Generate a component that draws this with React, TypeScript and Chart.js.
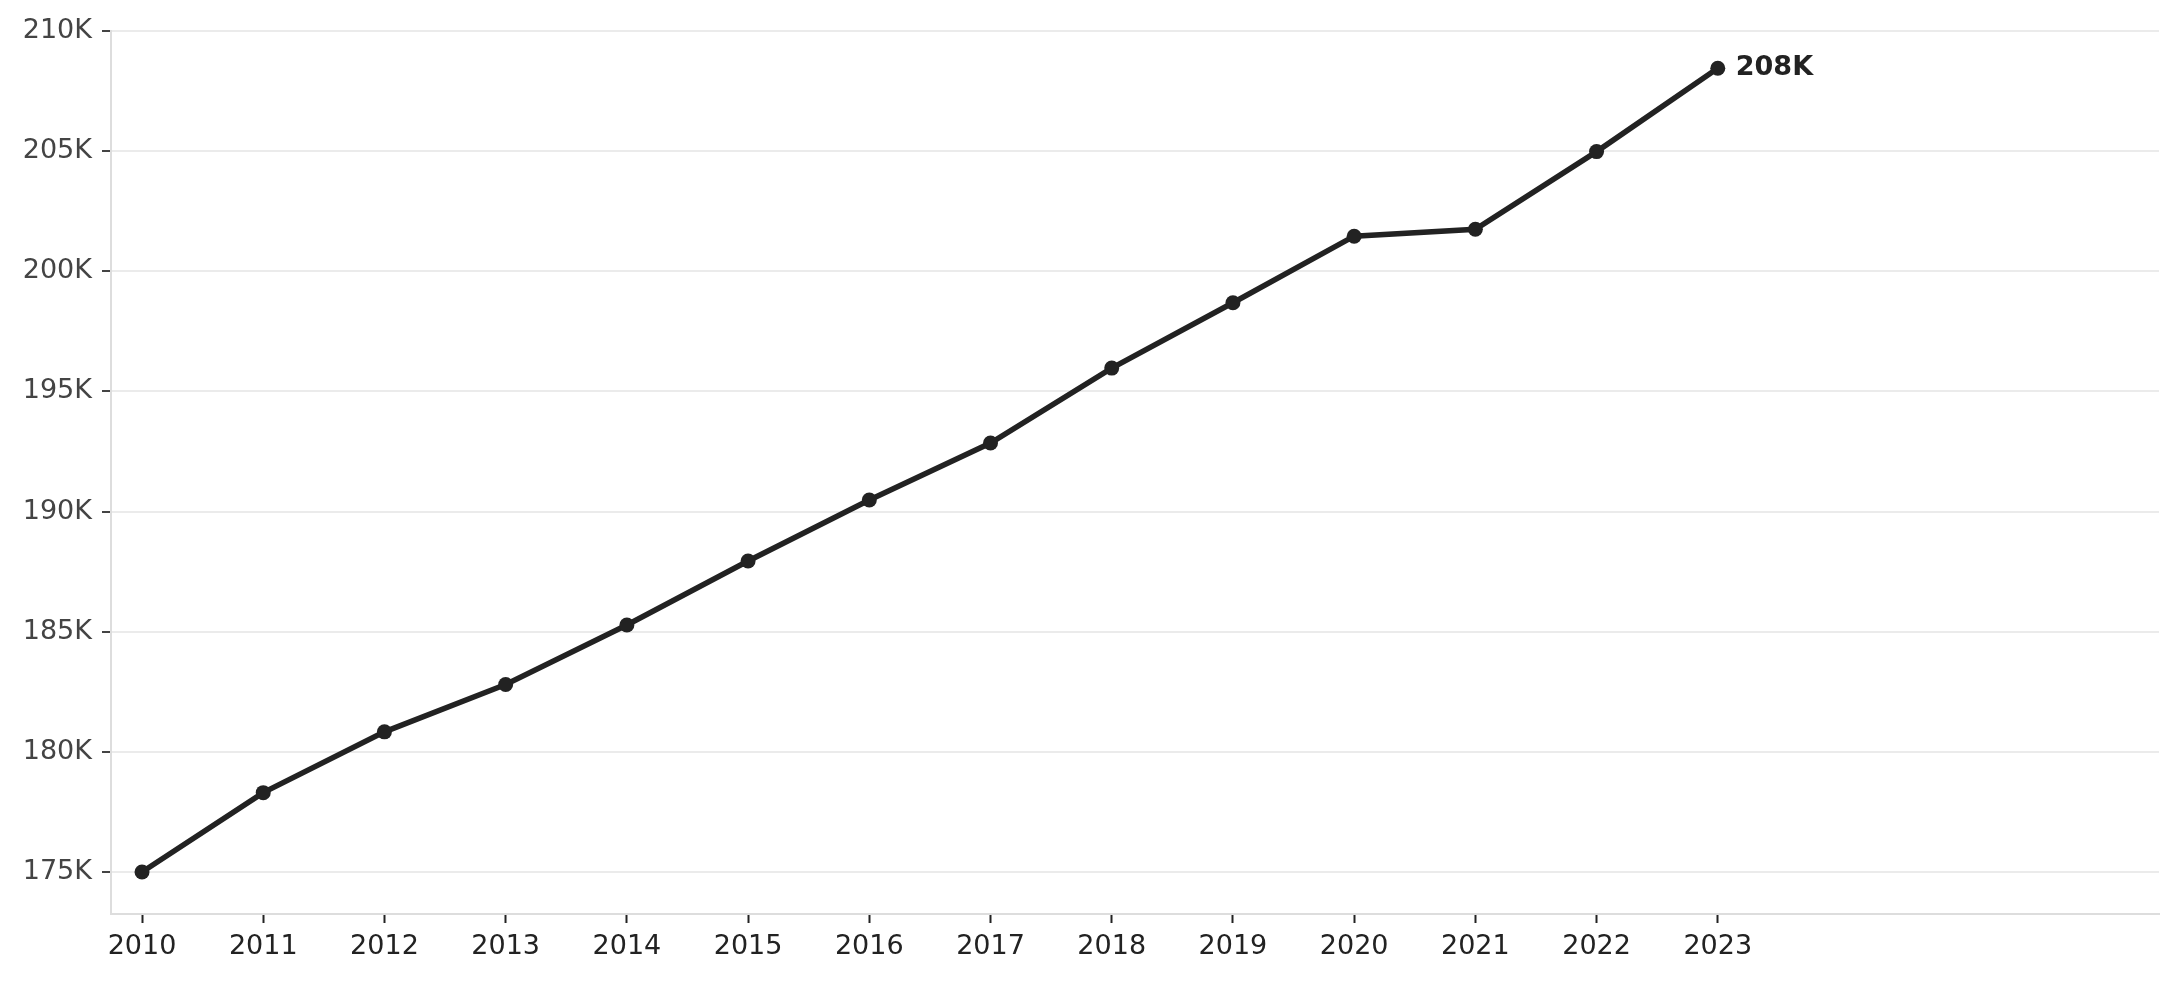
import React, { useEffect, useRef } from "react";
import { Chart, registerables } from "chart.js";

Chart.register(...registerables);

const years = [2010, 2011, 2012, 2013, 2014, 2015, 2016, 2017, 2018, 2019, 2020, 2021, 2022, 2023];
const values = [175000, 178300, 180830, 182800, 185280, 187940, 190480, 192850, 195970, 198690, 201460, 201750, 204980, 208450];
const yTickValues = [175000, 180000, 185000, 190000, 195000, 200000, 205000, 210000];
const xTickValues = years;

const FONT = "'DejaVu Sans', sans-serif";

const endLabelPlugin = {
  id: "endLabel",
  afterDatasetsDraw(chart: any) {
    const meta = chart.getDatasetMeta(0);
    const last = meta.data[meta.data.length - 1];
    if (!last) return;
    const v = values[values.length - 1];
    const ctx = chart.ctx;
    ctx.save();
    ctx.font = "bold 27px " + FONT;
    ctx.fillStyle = "#222222";
    ctx.textAlign = "left";
    ctx.textBaseline = "middle";
    ctx.fillText(Math.round(v / 1000) + "K", last.x + 18, last.y);
    ctx.restore();
  },
};

export default function App() {
  const ref = useRef<HTMLCanvasElement | null>(null);
  useEffect(() => {
    document.body.style.margin = "0";
    const canvas = ref.current!;
    const chart = new Chart(canvas, {
      type: "line",
      data: {
        datasets: [
          {
            data: years.map((y, i) => ({ x: y, y: values[i] })),
            borderColor: "#222222",
            backgroundColor: "#222222",
            borderWidth: 5.5,
            pointRadius: 7.5,
            pointBorderWidth: 0,
            pointBackgroundColor: "#222222",
            tension: 0,
            fill: false,
          },
        ],
      },
      options: {
        responsive: false,
        animation: false,
        events: [],
        layout: { padding: { left: 0, right: 21, top: 31, bottom: 0 } },
        plugins: { legend: { display: false }, tooltip: { enabled: false } },
        scales: {
          x: {
            type: "linear",
            min: 2009.744,
            max: 2026.64,
            afterBuildTicks: (scale: any) => {
              scale.ticks = xTickValues.map((v) => ({ value: v }));
            },
            afterFit: (scale: any) => {
              scale.height = 67;
            },
            grid: {
              drawOnChartArea: false,
              drawTicks: true,
              tickLength: 9,
              tickWidth: 2,
              tickColor: "#222222",
            },
            border: { display: true, color: "#dddddd", width: 2 },
            ticks: {
              autoSkip: false,
              maxRotation: 0,
              padding: 8,
              color: "#222222",
              font: { family: FONT, size: 27 },
              callback: (v: any) => String(v),
            },
          },
          y: {
            type: "linear",
            min: 173250,
            max: 210000,
            afterBuildTicks: (scale: any) => {
              scale.ticks = yTickValues.map((v) => ({ value: v }));
            },
            afterFit: (scale: any) => {
              scale.width = 111;
            },
            grid: {
              color: "#ebebeb",
              lineWidth: 2,
              drawTicks: true,
              tickLength: 9,
              tickWidth: 2,
              tickColor: "#444444",
            },
            border: { display: true, color: "#dddddd", width: 2 },
            ticks: {
              padding: 10,
              color: "#444444",
              font: { family: FONT, size: 27 },
              callback: (v: any) => Math.round(Number(v) / 1000) + "K",
            },
          },
        },
      },
      plugins: [endLabelPlugin],
    } as any);
    return () => chart.destroy();
  }, []);
  return (
    <div style={{ position: "absolute", left: 0, top: 0, width: 2180, height: 981, background: "#fff" }}>
      <canvas ref={ref} width={2180} height={981} style={{ width: 2180, height: 981, display: "block" }} />
    </div>
  );
}
